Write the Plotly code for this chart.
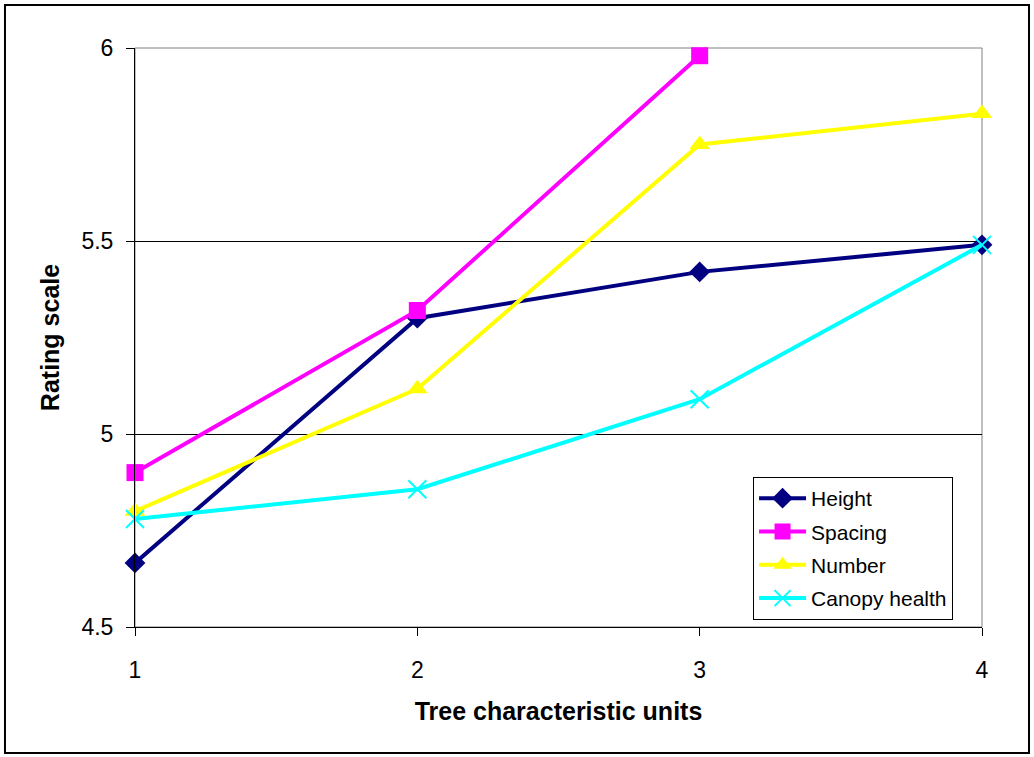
import plotly.graph_objects as go

units = [1, 2, 3, 4]
height = [4.666, 5.30, 5.42, 5.49]
spacing = [4.90, 5.32, 5.98]
number = [4.80, 5.117, 5.75, 5.83]
canopy = [4.78, 4.857, 5.09, 5.49]

series = [
    ("Height", units, height, "#000080", "diamond", 16),
    ("Spacing", units[:3], spacing, "#FF00FF", "square", 17),
    ("Number", units, number, "#FFFF00", "triangle-up", 18),
    ("Canopy health", units, canopy, "#00FFFF", "x-thin", 18),
]

fig = go.Figure()
for name, xs, ys, color, sym, size in series:
    marker = dict(symbol=sym, size=size, color=color)
    if sym == "x-thin":
        marker["line"] = dict(color=color, width=2)
    fig.add_trace(go.Scatter(
        x=xs, y=ys, name=name, legendgroup=name, mode="lines+markers",
        line=dict(color=color, width=4), marker=marker, cliponaxis=False,
    ))

fig.update_xaxes(
    range=[1, 4], tickvals=units, showgrid=False,
    showline=True, linecolor="black", linewidth=1,
    ticks="outside", ticklen=8, tickcolor="black", ticklabelstandoff=14,
    tickfont=dict(family="Liberation Sans", size=23, color="black"),
    title=dict(text="<b>Tree characteristic units</b>",
               font=dict(family="Liberation Sans", size=25, color="black"), standoff=20),
    zeroline=False,
)
fig.update_yaxes(
    range=[4.5, 6], tickvals=[4.5, 5, 5.5, 6], ticktext=["4.5", "5", "5.5", "6"],
    showgrid=True, gridcolor="black", gridwidth=1,
    showline=True, linecolor="black", linewidth=1,
    ticks="outside", ticklen=8, tickcolor="black", ticklabelstandoff=8,
    tickfont=dict(family="Liberation Sans", size=23, color="black"),
    title=dict(text="<b>Rating scale</b>",
               font=dict(family="Liberation Sans", size=25, color="black"), standoff=14),
    zeroline=False,
)

# gray frame on the plot area, black outer border around the whole chart
fig.add_shape(type="rect", xref="paper", yref="paper", x0=0, y0=0, x1=1, y1=1,
              line=dict(color="#808080", width=1), layer="below")
fig.add_shape(type="rect", xref="paper", yref="paper",
              x0=-0.1535, x1=1.0555, y0=-0.2176, y1=1.0743,
              line=dict(color="black", width=2))

fig.update_layout(
    width=1034, height=757,
    margin=dict(l=135, r=52, t=48, b=130),
    paper_bgcolor="white", plot_bgcolor="white",
    font=dict(family="Liberation Sans", color="black"),
    legend=dict(
        x=0.7297, y=0.259, xanchor="left", yanchor="top",
        bgcolor="white", bordercolor="black", borderwidth=1,
        font=dict(family="Liberation Sans", size=21, color="black"),
        itemwidth=47, tracegroupgap=3,
    ),
)

fig.write_html("out.html")
